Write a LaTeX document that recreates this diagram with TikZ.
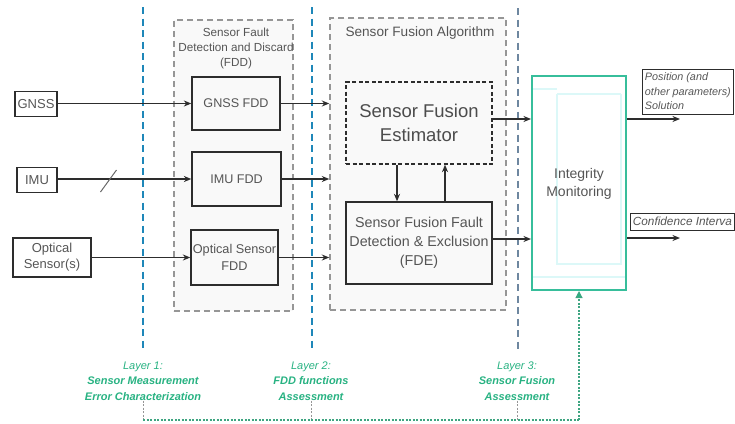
\documentclass[tikz,border=0pt]{standalone}
\usepackage{fontspec}
\setmainfont{Liberation Sans}
\usetikzlibrary{arrows.meta,calc}

\definecolor{laneblue}{RGB}{30,135,185}
\definecolor{lanegray}{RGB}{110,135,160}
\definecolor{layergreen}{RGB}{40,178,130}
\definecolor{imgreen}{RGB}{55,190,155}
\definecolor{imcyan}{RGB}{220,248,248}
\definecolor{boxtext}{RGB}{85,85,85}
\definecolor{boxline}{RGB}{45,45,45}
\definecolor{groupline}{RGB}{150,150,150}
\definecolor{groupfill}{RGB}{249,249,249}

\newcommand{\fs}[2]{\fontsize{#1}{#2}\selectfont}

\begin{document}
\begin{tikzpicture}[x=1pt,y=-1pt,
  box/.style={draw=boxline, line width=1.3pt, inner sep=0pt, align=center,
              text=boxtext},
  group/.style={draw=groupline, fill=groupfill, line width=1.4pt,
                dash pattern=on 6pt off 4pt, inner sep=0pt},
  flow/.style={draw=boxline, line width=1.3pt,
               -{Stealth[length=7.5pt,width=6pt]}},
  lane/.style={line width=1.8pt, dash pattern=on 7pt off 4.5pt},
  tick/.style={draw=groupline, line width=1pt, dash pattern=on 2pt off 1.5pt},
  feedback/.style={draw=layergreen!75!gray, line width=1.1pt,
                   dash pattern=on 2pt off 1.5pt},
  layertxt/.style={text=layergreen, align=center, inner sep=0pt,
                   font=\fs{11}{15.5}\itshape},
  outlabel/.style={draw=boxline, line width=0.8pt, inner sep=1pt,
                   align=left, text=boxtext}
]
\useasboundingbox (0,0) rectangle (735,423);

% layer boundaries
\draw[lane, laneblue] (143,7) -- (143,352);
\draw[lane, laneblue] (312,7) -- (312,352);
\draw[lane, lanegray] (518,8) -- (518,352);

% processing groups
\node[group, minimum width=119, minimum height=291] (fddgroup) at (233.5,165.5) {};
\node[group, minimum width=176, minimum height=292] (sfagroup) at (418,164) {};
\node[text=boxtext, align=center, inner sep=0pt, font=\fs{11.7}{15}] (fddtitle)
  at (236,48) {Sensor Fault\\Detection and Discard\\(FDD)};
\node[text=boxtext, inner sep=0pt, font=\fs{13.6}{16}] (sfatitle)
  at (420,33) {Sensor Fusion Algorithm};

% sensors
\node[box, minimum width=42, minimum height=25, font=\fs{13}{16}] (gnss) at (36,104) {GNSS};
\node[box, minimum width=40, minimum height=25, font=\fs{13}{16}] (imu) at (37,180) {IMU};
\node[box, minimum width=78, minimum height=39, font=\fs{13}{16}] (optical) at (52,257.5) {Optical\\Sensor(s)};

% FDD blocks
\node[box, minimum width=88, minimum height=53, font=\fs{12.6}{16}] (gnssfdd) at (236,103.5) {GNSS FDD};
\node[box, minimum width=89, minimum height=54, font=\fs{12.6}{16}] (imufdd) at (236.5,179) {IMU FDD};
\node[box, minimum width=87, minimum height=55, font=\fs{12.7}{17}] (optfdd) at (234.5,257.5) {Optical Sensor\\FDD};

% fusion blocks
\node[box, minimum width=146, minimum height=82, dash pattern=on 4pt off 2.5pt,
      text=boxtext!90!black, font=\fs{18.5}{24}] (sfe) at (419,123) {Sensor Fusion\\Estimator};
\node[box, minimum width=146, minimum height=82, font=\fs{14.3}{19}] (fde) at (419,243) {Sensor Fusion Fault\\Detection \& Exclusion\\(FDE)};

% integrity monitoring
\node[draw=imgreen, line width=2pt, minimum width=94, minimum height=214,
      inner sep=0pt] (im) at (579,183) {};
\draw[imcyan, line width=1.5pt] (533,89) -- (557,89) (557,94) -- (621,94)
  (557,94) -- (557,264) -- (621,264) -- (621,94) (533,277) -- (625,277);
\node[text=boxtext, align=center, inner sep=0pt, font=\fs{14}{18}] (imtext) at (579,184) {Integrity\\Monitoring};

% outputs
\node[outlabel, minimum width=91, minimum height=45, anchor=west,
      font=\fs{10.8}{14.5}\itshape] (poslabel) at (642,91.5) {Position (and\\other parameters)\\Solution};
\node[outlabel, minimum width=104, minimum height=17, anchor=west,
      font=\fs{11.8}{14}\itshape] (conflabel) at (630,221.5) {Confidence Interva};
\coordinate (posend) at (680,119);
\coordinate (confend) at (680,238);

% sensor inputs
\draw[flow] (gnss.east |- gnssfdd.west) -- (gnssfdd.west);
\draw[flow] (imu.east |- imufdd.west) -- (imufdd.west);
\draw[flow] (optical.east |- optfdd.west) -- (optfdd.west);
\coordinate (slash) at (108.5,181);
\draw[groupline!70!black, line width=1pt] ([shift={(-8,11)}]slash) -- ([shift={(8,-11)}]slash);

% FDD outputs into the fusion algorithm
\draw[flow] (gnssfdd.east) -- (gnssfdd.east -| sfagroup.west);
\draw[flow] (imufdd.east) -- (imufdd.east -| sfagroup.west);
\draw[flow] (optfdd.east) -- (optfdd.east -| sfagroup.west);

% estimator / FDE loop
\draw[flow] ([xshift=-22pt]sfe.south) -- ([xshift=-22pt]fde.north);
\draw[flow] ([xshift=26pt]fde.north) -- ([xshift=26pt]sfe.south);

% into and out of integrity monitoring
\draw[flow] ([yshift=4pt]sfe.east) -- ([yshift=4pt]sfe.east -| im.west);
\draw[flow] ([yshift=4pt]fde.east) -- ([yshift=4pt]fde.east -| im.west);
\draw[flow] (im.east |- posend) -- (posend);
\draw[flow] (im.east |- confend) -- (confend);

% layer labels
\node[layertxt] (layer1) at (143,381)
  {Layer 1:\\\bfseries Sensor Measurement\\\bfseries Error Characterization};
\node[layertxt] (layer2) at (311,381)
  {Layer 2:\\\bfseries FDD functions\\\bfseries Assessment};
\node[layertxt] (layer3) at (517,381)
  {Layer 3:\\\bfseries Sensor Fusion\\\bfseries Assessment};

% assessment feedback
\coordinate (fb1) at (143,420);
\coordinate (fb2) at (311,420);
\coordinate (fb3) at (517,420);
\coordinate (fbcorner) at (579,420);
\draw[tick] (layer1.south) -- (fb1);
\draw[tick] (layer2.south) -- (fb2);
\draw[tick] (layer3.south) -- (fb3);
\draw[feedback] (fb1) -- (fbcorner);
\draw[feedback, -{Triangle[length=7pt,width=7pt,fill=layergreen]}] (fbcorner) -- (im.south);
\end{tikzpicture}
\end{document}
